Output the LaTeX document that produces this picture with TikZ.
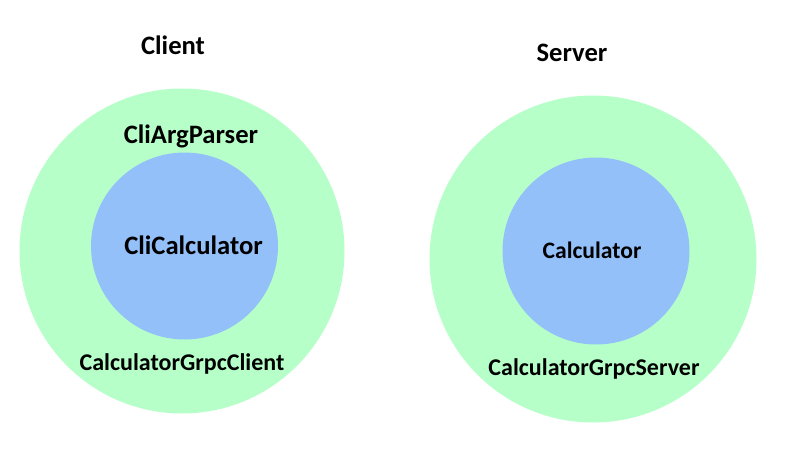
\documentclass[tikz,border=0pt]{standalone}
\usepackage{fontspec}
\setmainfont{Carlito}
\definecolor{outerg}{RGB}{182,255,200}
\definecolor{innerb}{RGB}{148,192,250}
\tikzset{
  outer/.style={circle,fill=outerg,draw=none,inner sep=0pt},
  inner/.style={circle,fill=innerb,draw=none,inner sep=0pt},
  lbl/.style={font=\fontsize{24}{28}\selectfont\bfseries,text=black,inner sep=0pt},
  biglbl/.style={lbl,font=\fontsize{26.6}{30}\selectfont\bfseries}
}
\begin{document}
\begin{tikzpicture}[x=1pt,y=-1pt]
\useasboundingbox (0,0) rectangle (796,458);
\node[outer,minimum size=325pt] (co) at (182,251) {};
\node[inner,minimum size=187pt] (ci) at (184.5,246) {};
\node[outer,minimum size=327pt] (so) at (593,259) {};
\node[inner,minimum size=187pt] (si) at (596,251) {};
\node[biglbl] (client) at (173,45) {Client};
\node[biglbl] (server) at (572,53) {Server};
\node[biglbl] (cap) at (191,136) {CliArgParser};
\node[biglbl] (cc) at (193.5,245) {CliCalculator};
\node[lbl] (cgc) at (182,364) {CalculatorGrpcClient};
\node[lbl,font=\fontsize{23.6}{27}\selectfont\bfseries] (calc) at (592,250) {Calculator};
\node[lbl] (cgs) at (594,369) {CalculatorGrpcServer};
\end{tikzpicture}
\end{document}
